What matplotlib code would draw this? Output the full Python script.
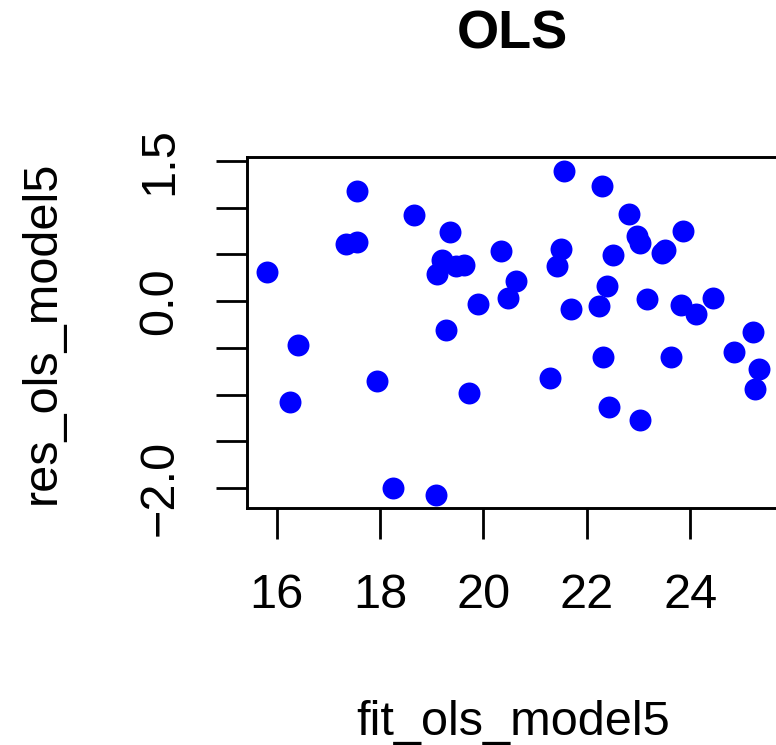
import matplotlib
matplotlib.use("Agg")
import matplotlib.pyplot as plt
import numpy as np

plt.rcParams['font.family'] = ['Liberation Sans', 'DejaVu Sans']

# fitted values and residuals
fit_ols_model5 = [15.81, 17.55, 17.35, 17.55, 18.66, 19.36, 19.19, 19.10, 19.47, 19.62,
                  20.35, 20.63, 20.48, 19.90, 19.28, 16.41, 16.26, 17.95, 19.72, 18.25,
                  19.09, 21.56, 22.30, 22.82, 22.97, 23.03, 23.86, 23.51, 23.45, 21.50,
                  21.42, 22.51, 22.40, 22.24, 21.70, 23.17, 23.82, 24.11, 24.45, 25.21,
                  24.84, 25.34, 25.26, 22.32, 23.63, 21.29, 22.43, 23.04]
res_ols_model5 = [0.31, 1.18, 0.61, 0.63, 0.92, 0.74, 0.44, 0.29, 0.37, 0.385,
                  0.53, 0.21, 0.03, -0.03, -0.31, -0.47, -1.08, -0.86, -0.98, -2.00,
                  -2.08, 1.39, 1.23, 0.93, 0.69, 0.62, 0.75, 0.55, 0.51, 0.56,
                  0.37, 0.49, 0.16, -0.05, -0.09, 0.02, -0.04, -0.14, 0.035, -0.33,
                  -0.55, -0.73, -0.94, -0.60, -0.60, -0.82, -1.13, -1.27]

x_ticks = [16, 18, 20, 22, 24]
x_tick_labels = ['16', '18', '20', '22', '24']
y_ticks = [-2.0, -1.5, -1.0, -0.5, 0.0, 0.5, 1.0, 1.5]
y_tick_labels = ['\u22122.0', '', '', '', '0.0', '', '', '1.5']

W, H = 776, 745
fig = plt.figure(figsize=(W / 100, H / 100), dpi=100)
# axes box: left 246.7px, right ~779px (clipped), top 157.3px, bottom 508.3px
ax = fig.add_axes([246.7 / W, (H - 508.3) / H, (779 - 246.7) / W, (508.3 - 157.3) / H])

ax.plot(fit_ols_model5, res_ols_model5, 'o', color='#0000ff', markersize=15.8,
        markeredgewidth=0, clip_on=False)

ax.set_xlim(15.42, 25.72)
ax.set_ylim(-2.217, 1.537)

ax.set_xticks(x_ticks)
ax.set_xticklabels(x_tick_labels)
ax.set_yticks(y_ticks)
ax.set_yticklabels(y_tick_labels, rotation=90, va='center')

ax.tick_params(axis='both', length=22.3, width=2.0, labelsize=35, pad=24, color='black')
for sp in ax.spines.values():
    sp.set_linewidth(2.1)

ax.set_title('OLS', fontsize=39, fontweight='bold', pad=78)
ax.set_xlabel('fit_ols_model5', fontsize=35)
ax.set_ylabel('res_ols_model5', fontsize=35)
ax.xaxis.set_label_coords(0.5, -0.546)
ax.yaxis.set_label_coords(-0.341, 0.5)

fig.savefig('out.png', dpi=100)
